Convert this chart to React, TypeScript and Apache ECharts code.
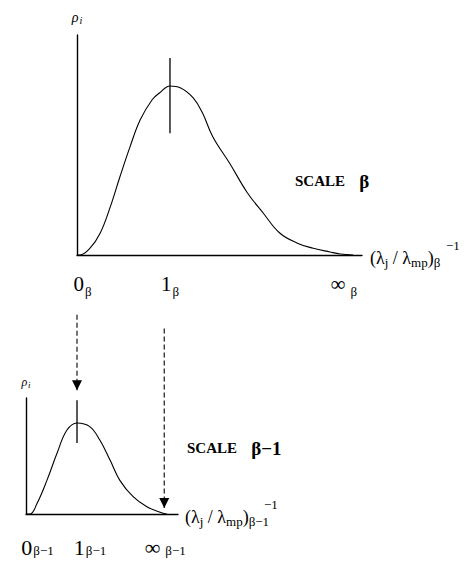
import React, { useEffect, useRef } from 'react';
import * as echarts from 'echarts';

// ---------- data ----------
// upper panel (scale β): x in units of 1_β, y relative to the peak height
const topCurveX = [0, 0.03, 0.14, 0.25, 0.355, 0.46, 0.57, 0.68, 0.81, 0.89, 1.0, 1.11, 1.25, 1.35, 1.46, 1.645, 1.83, 2.0, 2.18, 2.37, 2.54, 2.72, 2.83, 2.97];
const topCurveY = [0, 0.0, 0.04, 0.13, 0.28, 0.46, 0.64, 0.8, 0.92, 0.96, 1.0, 0.99, 0.93, 0.84, 0.7, 0.54, 0.37, 0.25, 0.13, 0.07, 0.04, 0.018, 0.006, 0];
// lower panel (scale β−1)
const bottomCurveX = [0, 0.08, 0.22, 0.41, 0.61, 0.8, 1.0, 1.25, 1.45, 1.65, 1.84, 2.1, 2.37, 2.63, 2.76];
const bottomCurveY = [0, 0.0, 0.12, 0.37, 0.67, 0.92, 1.0, 0.96, 0.81, 0.59, 0.37, 0.19, 0.08, 0.02, 0];

// vertical marks through the peaks
const topPeakX = 1;
const topPeakMarkY = [0.72, 1.166];
const bottomPeakX = 1;
const bottomPeakMarkY = [0.78, 1.25];

// tick labels
const topTickValues = [0, 1, 2.87];
const topTickMain = ['0', '1', '∞'];
const topTickSub = ['β', 'β', 'β'];
const bottomTickValues = [0, 1, 2.73];
const bottomTickMain = ['0', '1', '∞'];
const bottomTickSub = ['β−1', 'β−1', 'β−1'];

// dashed arrows (in the lower panel's units)
const arrowX = [1, 2.71];
const arrowFromY = [2.19, 2.04];
const arrowToY = [1.36, 0.066];

const scaleNames = ['β', 'β−1'];
const axisSubs = ['β', 'β−1'];

// ---------- layout ----------
const topShift = [11, 0, 0];
const bottomShift = [23, 26, 0];
const FONT = "'Liberation Serif', 'DejaVu Serif', serif";

function zip(xs: number[], ys: number[]) {
  return xs.map((x, i) => [x, ys[i]]);
}

function tickRich(shifts: number[], mainSize: number, subSize: number, subPad: number) {
  const rich: any = {
    n: { fontFamily: FONT, fontSize: mainSize, lineHeight: mainSize + 1, color: '#000', verticalAlign: 'top' },
    s: { fontFamily: FONT, fontSize: subSize, lineHeight: subSize + 1, color: '#000', verticalAlign: 'top', padding: [subPad, 0, 0, 1] },
    g: { fontFamily: FONT, fontSize: subSize, width: 4, verticalAlign: 'top' },
  };
  shifts.forEach((w) => {
    rich['p' + w] = { fontSize: 4, width: w, verticalAlign: 'top' };
  });
  return rich;
}

function tickFormatter(values: number[], mains: string[], subs: string[], shifts: number[]) {
  return (v: number) => {
    const i = values.findIndex((t) => Math.abs(t - v) < 1e-6);
    if (i < 0) return '';
    const pre = shifts[i] > 0 ? `{p${shifts[i]}| }` : '';
    const gap = mains[i] === '∞' ? '{g| }' : '';
    return `${pre}{n|${mains[i]}}${gap}{s|${subs[i]}}`;
  };
}

function axisNameRich(gapW: number) {
  return {
    gap: { fontSize: 4, width: gapW, lineHeight: 6 },
    sup: { fontFamily: FONT, fontSize: 13, lineHeight: 6, color: '#000' },
    m: { fontFamily: FONT, fontSize: 18, lineHeight: 19, color: '#000', verticalAlign: 'top' },
    s: { fontFamily: FONT, fontSize: 13, lineHeight: 13, color: '#000', verticalAlign: 'top', padding: [7, 0, 0, 0] },
  };
}

function axisName(sub: string) {
  return `{gap| }{sup|−1}\n{m|(λ}{s|j}{m| / λ}{s|mp}{m|)}{s|${sub}}`;
}

export default function App() {
  const ref = useRef<HTMLDivElement>(null);
  useEffect(() => {
    if (!ref.current) return;
    const chart = echarts.init(ref.current, undefined, { renderer: 'svg' });
    const axisLine = { show: true, onZero: false, lineStyle: { color: '#000', width: 1.4 } };
    const scaleRich = {
      a: { fontFamily: FONT, fontWeight: 'bold', fontSize: 15, fill: '#000' },
      b: { fontFamily: FONT, fontWeight: 'bold', fontSize: 19, fill: '#000' },
    };
    const option: any = {
      animation: false,
      backgroundColor: '#fff',
      grid: [
        { left: 77, top: 35, width: 285, height: 220 },
        { left: 26, top: 398, width: 152, height: 116 },
      ],
      xAxis: [
        {
          type: 'value', gridIndex: 0, min: 0, max: 3.065,
          axisLine, axisTick: { show: false }, splitLine: { show: false },
          axisLabel: {
            customValues: topTickValues,
            formatter: tickFormatter(topTickValues, topTickMain, topTickSub, topShift),
            rich: tickRich(topShift, 21, 13, 12),
            margin: 18,
          },
          name: axisName(axisSubs[0]), nameLocation: 'end', nameGap: 8,
          nameTextStyle: { rich: axisNameRich(76) },
        },
        {
          type: 'value', gridIndex: 1, min: 0, max: 2.98,
          axisLine, axisTick: { show: false }, splitLine: { show: false },
          axisLabel: {
            customValues: bottomTickValues,
            formatter: tickFormatter(bottomTickValues, bottomTickMain, bottomTickSub, bottomShift),
            rich: tickRich(bottomShift, 22, 13, 8),
            margin: 22,
          },
          name: axisName(axisSubs[1]), nameLocation: 'end', nameGap: 7,
          nameTextStyle: { rich: axisNameRich(79) },
        },
      ],
      yAxis: [
        {
          type: 'value', gridIndex: 0, min: 0, max: 1.302,
          axisLine, axisTick: { show: false }, splitLine: { show: false }, axisLabel: { show: false },
          name: '{r|ρ}{i|i}', nameLocation: 'end', nameGap: 10,
          nameTextStyle: {
            rich: {
              r: { fontFamily: FONT, fontStyle: 'italic', fontSize: 14, color: '#000' },
              i: { fontFamily: FONT, fontStyle: 'italic', fontSize: 10, color: '#000', padding: [6, 0, 0, 1] },
            },
          },
        },
        {
          type: 'value', gridIndex: 1, min: 0, max: 1.275,
          axisLine, axisTick: { show: false }, splitLine: { show: false }, axisLabel: { show: false },
          name: '{r|ρ}{i|i}', nameLocation: 'end', nameGap: 9,
          nameTextStyle: {
            rich: {
              r: { fontFamily: FONT, fontStyle: 'italic', fontSize: 12, color: '#000' },
              i: { fontFamily: FONT, fontStyle: 'italic', fontSize: 9, color: '#000', padding: [5, 0, 0, 1] },
            },
          },
        },
      ],
      series: [
        {
          type: 'line', xAxisIndex: 0, yAxisIndex: 0, data: zip(topCurveX, topCurveY),
          smooth: 0.4, showSymbol: false, lineStyle: { color: '#000', width: 1.1 },
        },
        {
          type: 'line', xAxisIndex: 0, yAxisIndex: 0,
          data: topPeakMarkY.map((y) => [topPeakX, y]),
          showSymbol: false, lineStyle: { color: '#000', width: 1.3 },
        },
        {
          type: 'line', xAxisIndex: 1, yAxisIndex: 1, data: zip(bottomCurveX, bottomCurveY),
          smooth: 0.4, showSymbol: false, lineStyle: { color: '#000', width: 1.1 },
        },
        {
          type: 'line', xAxisIndex: 1, yAxisIndex: 1,
          data: bottomPeakMarkY.map((y) => [bottomPeakX, y]),
          showSymbol: false, lineStyle: { color: '#000', width: 1.3 },
        },
        ...arrowX.map((x, i) => ({
          type: 'line', xAxisIndex: 1, yAxisIndex: 1, clip: false,
          data: [
            { value: [x, arrowFromY[i]], symbol: 'none' },
            { value: [x, arrowToY[i]], symbol: 'triangle', symbolSize: [10, 10], symbolRotate: 180, symbolOffset: [0, -5] },
          ],
          showSymbol: true, showAllSymbol: true,
          itemStyle: { color: '#000', borderWidth: 0 },
          lineStyle: { color: '#000', width: 1.1, type: [5, 3] },
        })),
      ],
      graphic: [
        {
          type: 'text', x: 295, y: 181,
          style: { text: `{a|SCALE}{b|   ${scaleNames[0]}}`, verticalAlign: 'middle', rich: scaleRich },
        },
        {
          type: 'text', x: 187, y: 448,
          style: { text: `{a|SCALE}{b|   ${scaleNames[1]}}`, verticalAlign: 'middle', rich: scaleRich },
        },
      ],
    };
    chart.setOption(option);
    return () => chart.dispose();
  }, []);
  return <div ref={ref} style={{ position: 'fixed', left: 0, top: 0, width: 464, height: 565 }} />;
}
